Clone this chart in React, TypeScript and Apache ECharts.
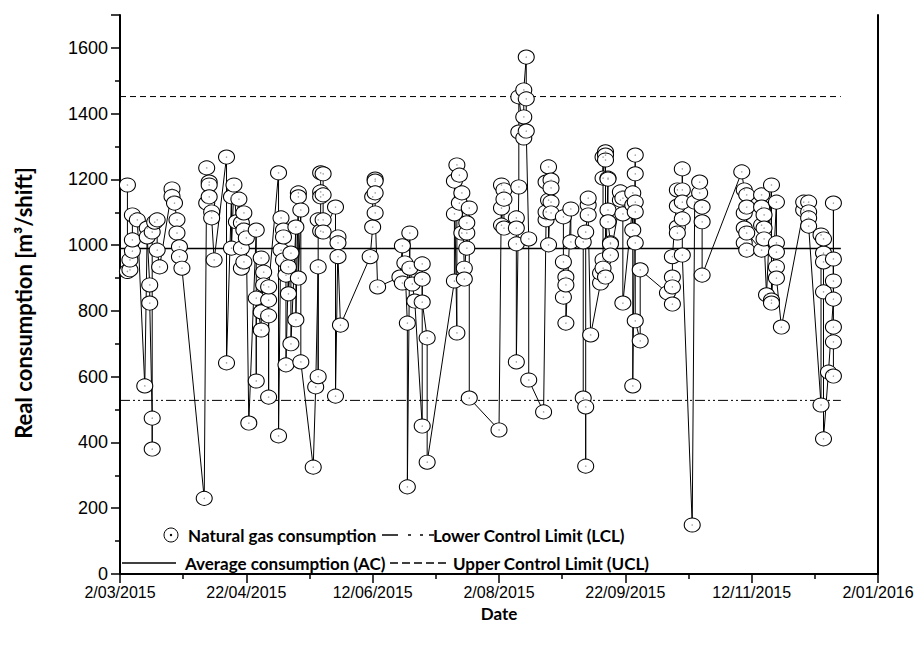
import React, { useEffect, useRef } from "react";
import * as echarts from "echarts";

// ---- data ----
const START_DATE = "2015-03-02";
const xTickLabels = ["2/03/2015", "22/04/2015", "12/06/2015", "2/08/2015", "22/09/2015", "12/11/2015", "2/01/2016"];
const X_TICK_DAYS = 51;
const X_MAX_DAYS = 306;
const Y_MAX = 1700;
const Y_TICK = 200;

const AVERAGE_CONSUMPTION = 990;
const UPPER_CONTROL_LIMIT = 1452;
const LOWER_CONTROL_LIMIT = 528;
const LIMIT_LINES_END = "2015-12-18";

const sampleDates = [
  "2015-03-05", "2015-03-06", "2015-03-07", "2015-03-09", "2015-03-12", "2015-03-13", "2015-03-14", "2015-03-15",
  "2015-03-16", "2015-03-17", "2015-03-18", "2015-03-23", "2015-03-24", "2015-03-25", "2015-03-26", "2015-03-27",
  "2015-04-05", "2015-04-06", "2015-04-07", "2015-04-08", "2015-04-09", "2015-04-14", "2015-04-16", "2015-04-17",
  "2015-04-18", "2015-04-19", "2015-04-20", "2015-04-21", "2015-04-22", "2015-04-23", "2015-04-26", "2015-04-28",
  "2015-04-29", "2015-05-01", "2015-05-05", "2015-05-06", "2015-05-07", "2015-05-08", "2015-05-09", "2015-05-10",
  "2015-05-12", "2015-05-13", "2015-05-14", "2015-05-19", "2015-05-20", "2015-05-21", "2015-05-22", "2015-05-23",
  "2015-05-28", "2015-05-29", "2015-05-30", "2015-06-11", "2015-06-12", "2015-06-13", "2015-06-14", "2015-06-23",
  "2015-06-24", "2015-06-25", "2015-06-26", "2015-06-27", "2015-06-28", "2015-06-29", "2015-07-02", "2015-07-04",
  "2015-07-15", "2015-07-16", "2015-07-17", "2015-07-18", "2015-07-19", "2015-07-20", "2015-07-21", "2015-08-02",
  "2015-08-03", "2015-08-04", "2015-08-09", "2015-08-10", "2015-08-12", "2015-08-13", "2015-08-14", "2015-08-20",
  "2015-08-21", "2015-08-22", "2015-08-23", "2015-08-28", "2015-08-29", "2015-08-31", "2015-09-05", "2015-09-06",
  "2015-09-07", "2015-09-08", "2015-09-12", "2015-09-13", "2015-09-14", "2015-09-15", "2015-09-16", "2015-09-20",
  "2015-09-21", "2015-09-25", "2015-09-26", "2015-09-28", "2015-10-09", "2015-10-11", "2015-10-13", "2015-10-15",
  "2015-10-19", "2015-10-20", "2015-10-22", "2015-10-23", "2015-11-08", "2015-11-09", "2015-11-10", "2015-11-16",
  "2015-11-17", "2015-11-18", "2015-11-20", "2015-11-22", "2015-11-24", "2015-12-03", "2015-12-05", "2015-12-10",
  "2015-12-11", "2015-12-13", "2015-12-15",
];

// readings per shift for each sample date, m3/shift
const shiftReadings = [
  [1183, 920], [925, 955], [982, 1016, 1092], [1077], [572], [1052, 1025], [879, 824], [474, 380, 1040],
  [1070], [1077, 985], [934], [1171, 1148], [1128], [1077, 1037], [995, 965], [930],
  [230], [1235, 1128], [1192, 1183, 1147], [1101, 1083], [955], [1268, 642], [1147, 991], [1183],
  [1071], [1140], [991, 930, 1068], [949, 1098, 1046], [1022], [459], [1046, 587, 839], [742, 961, 797],
  [918, 879], [833, 785, 538, 873], [1220, 420], [1083, 985], [1046, 1025, 955], [909, 636], [934, 852], [976, 700],
  [1055, 773], [1159, 1147, 900], [1107, 645], [325], [569], [934, 600, 1077], [1043, 1162, 1147, 1220], [1217, 1153, 1077, 1040],
  [1116, 541], [1025, 1007, 965], [757], [965], [1055, 1147], [1201, 1195, 1159, 1098], [873], [903],
  [998, 885], [946], [763, 265], [1037, 930], [882], [830], [450, 943, 897, 827], [718, 340],
  [891, 1095, 1195], [733, 1244], [1213, 1128], [1037, 1159], [930, 897], [1037, 1068, 991], [1113, 535], [438],
  [1183, 1113, 1061], [1168, 1140, 1052], [1083, 1052, 1004, 645], [1177, 1344, 1451], [1326, 1390, 1472], [1572, 1445, 1347], [1019, 590], [493],
  [1077, 1101, 1192], [1238, 1137, 1001], [1198, 1174, 1131, 1098], [1086, 949, 842], [903, 879, 763], [1110, 1010], [1010, 535], [508, 328, 1040],
  [1122, 1143, 1092], [727], [885, 915], [955, 930, 1268, 1204], [1284, 1274, 1259, 903], [1204, 1201, 1107, 1071], [1007, 1004, 970], [1137, 1162],
  [1143, 1095, 824], [1122, 1046, 1159, 572], [1274, 1217, 1131, 1101, 1007, 770], [709, 925], [855], [903, 873, 821, 965], [1168, 1119, 1055, 1037], [1168, 1080, 1232, 1131, 970],
  [149], [1131], [1159, 1192], [1116, 1071, 909], [1223], [1168, 1098, 1052, 1007], [985, 1153, 1116, 1037], [985, 1153, 1116, 1061],
  [1092, 1052, 1019], [849], [1183, 833, 824], [1131, 1007, 979, 934, 900], [751], [1107, 1131], [1131, 1101, 1083, 1058], [514, 1031],
  [976, 1019, 949, 858, 411], [614], [836, 1128, 891, 958, 751, 706, 602],
];

const legendLabels = [
  "Natural gas consumption",
  "Lower Control Limit (LCL)",
  "Average consumption (AC)",
  "Upper Control Limit (UCL)",
];
const yTitle = "Real consumption [m³/shift]";
const xTitle = "Date";

// ---- helpers ----
const DAY_MS = 86400000;
const toUTC = (s: string) => {
  const [y, m, d] = s.split("-").map(Number);
  return Date.UTC(y, m - 1, d);
};
const dayOffset = (s: string) => (toUTC(s) - toUTC(START_DATE)) / DAY_MS;

const BOLD_FONT = "Lato, 'Open Sans', sans-serif";
const AXIS_FONT = "'Liberation Sans', Arial, sans-serif";

export default function App() {
  const ref = useRef<HTMLDivElement>(null);

  useEffect(() => {
    if (!ref.current) return;
    const chart = echarts.init(ref.current, undefined, { renderer: "svg" });

    const points: [number, number][] = [];
    sampleDates.forEach((d, i) => {
      const x = dayOffset(d);
      shiftReadings[i].forEach((v) => points.push([x, v]));
    });
    const limitEnd = dayOffset(LIMIT_LINES_END);
    const hLine = (v: number): [number, number][] => [
      [0, v],
      [limitEnd, v],
    ];

    const row1 = 535;
    const row2 = 563;
    const legendText = (x: number, y: number, text: string) => ({
      type: "text",
      x,
      y,
      style: {
        text,
        fill: "#000",
        font: `bold 17px ${BOLD_FONT}`,
        textVerticalAlign: "middle",
        textAlign: "left",
      },
      silent: true,
    });
    const seg = (x1: number, x2: number, y: number, lineDash?: number[], w = 1.5) => ({
      type: "line",
      shape: { x1, y1: y, x2, y2: y },
      style: { stroke: "#000", lineWidth: w, lineDash },
      silent: true,
    });

    const tickStyle = { color: "#000", width: 1.5 };

    chart.setOption({
      animation: false,
      backgroundColor: "#fff",
      grid: { left: 120, right: 46, top: 15, bottom: 74, containLabel: false },
      xAxis: {
        type: "value",
        min: 0,
        max: X_MAX_DAYS,
        interval: X_TICK_DAYS,
        name: xTitle,
        nameLocation: "middle",
        nameGap: 25,
        nameTextStyle: { fontFamily: BOLD_FONT, fontWeight: "bold", fontSize: 17, color: "#000" },
        axisLine: { lineStyle: { color: "#000", width: 2 } },
        axisTick: { length: 9, lineStyle: tickStyle },
        minorTick: { show: true, splitNumber: 2, length: 5, lineStyle: tickStyle },
        splitLine: { show: false },
        axisLabel: {
          color: "#000",
          fontFamily: AXIS_FONT,
          fontSize: 16,
          margin: 10,
          formatter: (v: number) => xTickLabels[Math.round(v / X_TICK_DAYS)] ?? "",
        },
      },
      yAxis: [
        {
          type: "value",
          min: 0,
          max: Y_MAX,
          interval: Y_TICK,
          axisLine: { show: true, lineStyle: { color: "#000", width: 2 } },
          axisTick: { length: 9, lineStyle: tickStyle },
          minorTick: { show: true, splitNumber: 2, length: 5, lineStyle: tickStyle },
          splitLine: { show: false },
          axisLabel: {
            color: "#000",
            fontFamily: AXIS_FONT,
            fontSize: 18,
            margin: 12,
            showMaxLabel: false,
            formatter: (v: number) => String(v),
          },
        },
        {
          type: "value",
          position: "right",
          min: 0,
          max: Y_MAX,
          interval: Y_TICK,
          axisLine: { show: true, lineStyle: { color: "#000", width: 2 } },
          axisTick: { show: false },
          axisLabel: { show: false },
          splitLine: { show: false },
        },
      ],
      series: [
        {
          type: "line",
          data: hLine(AVERAGE_CONSUMPTION),
          symbol: "none",
          lineStyle: { color: "#000", width: 1.5 },
          silent: true,
          z: 1,
        },
        {
          type: "line",
          data: hLine(UPPER_CONTROL_LIMIT),
          symbol: "none",
          lineStyle: { color: "#000", width: 1, type: [6, 4] },
          silent: true,
          z: 1,
        },
        {
          type: "line",
          data: hLine(LOWER_CONTROL_LIMIT),
          symbol: "none",
          lineStyle: { color: "#000", width: 1, type: [10, 3, 2, 3, 2, 3] },
          silent: true,
          z: 1,
        },
        {
          type: "line",
          data: points,
          symbol: "circle",
          symbolSize: [16, 14],
          showAllSymbol: true,
          itemStyle: { color: "#fff", borderColor: "#000", borderWidth: 1 },
          lineStyle: { color: "#000", width: 1 },
          emphasis: { disabled: true },
          silent: true,
          z: 3,
        },
        {
          type: "scatter",
          data: points,
          symbol: "circle",
          symbolSize: 1.5,
          itemStyle: { color: "#888" },
          emphasis: { disabled: true },
          silent: true,
          z: 4,
        },
      ],
      graphic: [
        {
          type: "text",
          x: 23,
          y: 303,
          rotation: Math.PI / 2,
          style: {
            text: yTitle,
            fill: "#000",
            font: `bold 22px ${BOLD_FONT}`,
            textAlign: "center",
            textVerticalAlign: "middle",
          },
          silent: true,
        },
        {
          type: "circle",
          shape: { cx: 171, cy: row1, r: 7 },
          style: { fill: "#fff", stroke: "#000", lineWidth: 1 },
          silent: true,
        },
        {
          type: "circle",
          shape: { cx: 171, cy: row1, r: 1.2 },
          style: { fill: "#000" },
          silent: true,
        },
        legendText(188, row1, legendLabels[0]),
        seg(382, 398, row1),
        seg(408, 411, row1),
        seg(420, 423, row1),
        seg(429, 434, row1),
        legendText(433, row1, legendLabels[1]),
        seg(122, 176, row2),
        legendText(185, row2, legendLabels[2]),
        seg(390, 450, row2, [8, 4]),
        legendText(453, row2, legendLabels[3]),
      ],
    });

    return () => chart.dispose();
  }, []);

  return <div ref={ref} style={{ position: "absolute", left: 0, top: 0, width: 924, height: 648 }} />;
}
